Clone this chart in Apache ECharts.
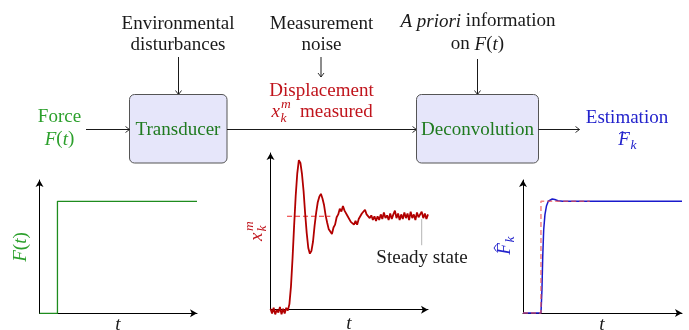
<!DOCTYPE html>
<html>
<head>
<meta charset="utf-8">
<script src="https://cdn.jsdelivr.net/npm/echarts@6/dist/echarts.min.js"></script>
<style>
  html, body { margin: 0; padding: 0; background: #fff; }
  #chart { width: 689px; height: 330px; }
</style>
</head>
<body>
<div id="chart"></div>
<script>
// force input F(t): a step (x = sample index 0..100)
const forceT = [0, 11.4, 11.4, 100]
const forceV = [0, 0, 1, 1]

// measured displacement x_k^m, one value per sample 0..100
const measured = [
  0.01, -0.04, 0.02, -0.05, 0.0, -0.03, 0.03, -0.05, 0.01, -0.04, 0.02, -0.01,
  0.06, 0.25, 0.55, 0.9, 1.22, 1.46, 1.6, 1.57, 1.45, 1.27,
  1.03, 0.82, 0.66, 0.6, 0.63, 0.73, 0.9, 1.04, 1.15, 1.21,
  1.24, 1.19, 1.12, 1.01, 0.93, 0.86, 0.85, 0.81, 0.88, 0.91,
  0.99, 1.02, 1.08, 1.05, 1.11, 1.06, 1.07, 1.0, 1.01, 0.94,
  0.96, 0.91, 0.95, 0.91, 0.97, 0.96, 1.03, 1.02, 1.07, 1.02,
  1.04, 0.98, 1.01, 0.96, 1.0, 0.95, 1.0, 0.96, 1.02, 0.97,
  1.04, 0.98, 1.01, 0.96, 1.03, 0.97, 1.02, 1.06, 0.98, 1.03,
  0.96, 1.02, 0.97, 1.04, 0.98, 1.03, 0.96, 1.05, 0.98, 1.02,
  0.96, 1.04, 0.99, 0.97, 1.05, 0.98, 1.03, 0.97, 1.02
]
// dashed steady level and the "Steady state" pointer
const steadyT = [10.5, 38]
const steadyV = [1, 1]
const pointerT = [96, 96]
const pointerV = [0.97, 0.69]

// estimated force F^_k and the true step under it
const estT = [0, 11.3, 11.9, 12.4, 13, 13.8, 14.8, 15.9, 17, 18.4, 20, 22, 25, 100]
const estV = [0, 0, 0.2, 0.5, 0.74, 0.88, 0.96, 1.0, 1.015, 1.02, 1.015, 1.005, 1.0, 1.0]
const trueT = [0, 11.3, 11.3, 42]
const trueV = [0, 0, 1, 1]

const FONT = 'Liberation Serif'
const INK = '#1a1a1a'
const GREEN = '#2ca02c'
const DGREEN = '#1f7a1f'
const RED = '#c0141c'
const BLUE = '#2323cc'

const zip = (xs, ys) => xs.map((x, i) => [x, ys[i]])

function txt(x, y, text, opt) {
  opt = opt || {}
  const style = {
    text: text, fontFamily: FONT, fontSize: opt.size || 19,
    fontStyle: opt.it ? 'italic' : 'normal', fill: opt.fill || INK,
    align: opt.align || 'center', verticalAlign: 'middle'
  }
  if (opt.rich) style.rich = opt.rich
  return { type: 'text', x: x, y: y, silent: true, style: style }
}
function italic(color, size) {
  return { i: { fontFamily: FONT, fontStyle: 'italic', fontSize: size || 19, fill: color } }
}
function hArrow(x1, x2, y) {
  return [
    { type: 'line', shape: { x1: x1, y1: y, x2: x2, y2: y }, style: { stroke: INK, lineWidth: 1 } },
    { type: 'polyline', shape: { points: [[x2 - 4, y - 3], [x2, y], [x2 - 4, y + 3]] }, style: { stroke: INK, lineWidth: 0.9, fill: null } }
  ]
}
function vArrow(x, y1, y2) {
  return [
    { type: 'line', shape: { x1: x, y1: y1, x2: x, y2: y2 }, style: { stroke: INK, lineWidth: 1 } },
    { type: 'polyline', shape: { points: [[x - 3, y2 - 4], [x, y2], [x + 3, y2 - 4]] }, style: { stroke: INK, lineWidth: 0.9, fill: null } }
  ]
}
function box(x, y, w, h) {
  return { type: 'rect', shape: { x: x, y: y, width: w, height: h, r: 5 }, style: { fill: '#e6e6fa', stroke: '#555', lineWidth: 1 } }
}
function hat(x, y, color) {
  return { type: 'polyline', shape: { points: [[x - 3.5, y + 2.5], [x, y], [x + 3.5, y + 2.5]] }, style: { stroke: color, lineWidth: 1, fill: null } }
}

// block diagram
const diagram = [].concat(
  txt(178, 24, 'Environmental'),
  txt(178, 45, 'disturbances'),
  vArrow(178.5, 57, 94.5),
  box(129.5, 94.5, 97.5, 68.5),
  txt(178, 130, 'Transducer', { fill: DGREEN }),
  txt(59.5, 117, 'Force', { fill: GREEN }),
  txt(59.5, 139.5, '{i|F}({i|t})', { fill: GREEN, rich: italic(GREEN) }),
  hArrow(86, 129.5, 129.5),
  hArrow(227, 416.5, 129.5),
  txt(321.5, 24, 'Measurement'),
  txt(321.5, 45, 'noise'),
  vArrow(321, 57, 77),
  txt(321.5, 91, 'Displacement', { fill: RED }),
  txt(271.5, 112, 'x', { fill: RED, align: 'left', it: true }),
  txt(281, 104.5, 'm', { fill: RED, align: 'left', it: true, size: 13.5 }),
  txt(280.5, 118.5, 'k', { fill: RED, align: 'left', it: true, size: 13.5 }),
  txt(300, 112, 'measured', { fill: RED, align: 'left' }),
  txt(478, 21.5, '{i|A priori} information', { rich: italic(INK) }),
  txt(477.5, 44.5, 'on {i|F}({i|t})', { rich: italic(INK) }),
  vArrow(477.5, 59, 94.5),
  box(416.5, 94.5, 122, 68.5),
  txt(477.5, 130, 'Deconvolution', { fill: DGREEN }),
  hArrow(538.5, 579.5, 129.5),
  txt(627, 118, 'Estimation', { fill: BLUE }),
  txt(624, 139.5, 'F', { fill: BLUE, it: true }),
  hat(622.5, 131.5, BLUE),
  txt(630.5, 145, 'k', { fill: BLUE, align: 'left', it: true, size: 13.5 }),
  txt(422, 258.5, 'Steady state'),
  // t under each small plot
  txt(118, 325, 't', { it: true }),
  txt(349, 324, 't', { it: true }),
  txt(602, 325, 't', { it: true })
)

// rotated y labels of the three small plots
const yLabels = [
  { type: 'group', x: 21, y: 247, rotation: Math.PI / 2, children: [
    txt(0, 0, '{i|F}({i|t})', { fill: GREEN, rich: italic(GREEN) })
  ] },
  { type: 'group', x: 256, y: 231, rotation: Math.PI / 2, children: [
    txt(-10, 1, 'x', { fill: RED, align: 'left', it: true }),
    txt(0, -6.5, 'm', { fill: RED, align: 'left', it: true, size: 13.5 }),
    txt(-0.5, 6.5, 'k', { fill: RED, align: 'left', it: true, size: 13.5 })
  ] },
  { type: 'group', x: 505, y: 245, rotation: Math.PI / 2, children: [
    txt(-4, 0, 'F', { fill: BLUE, it: true }),
    hat(-3, -11, BLUE),
    txt(2.5, 5, 'k', { fill: BLUE, align: 'left', it: true, size: 13.5 })
  ] }
]

function xAx(idx) {
  return {
    type: 'value', gridIndex: idx, min: 0, max: 100,
    axisLine: { lineStyle: { color: '#000', width: 1 }, symbol: ['none', 'arrow'], symbolSize: [6, 7] },
    axisTick: { show: false }, axisLabel: { show: false }, splitLine: { show: false }
  }
}
function yAx(idx, max) {
  return {
    type: 'value', gridIndex: idx, min: 0, max: max,
    axisLine: { show: true, lineStyle: { color: '#000', width: 1 }, symbol: ['none', 'arrow'], symbolSize: [6, 7] },
    axisTick: { show: false }, axisLabel: { show: false }, splitLine: { show: false }
  }
}
function line(idx, data, color, width, extra) {
  return Object.assign({
    type: 'line', xAxisIndex: idx, yAxisIndex: idx, data: data,
    showSymbol: false, clip: false, silent: true,
    lineStyle: { color: color, width: width }
  }, extra || {})
}

const chart = echarts.init(document.getElementById('chart'))
chart.setOption({
  animation: false,
  backgroundColor: '#fff',
  textStyle: { fontFamily: FONT },
  grid: [
    { left: 39.5, top: 180, width: 157.5, height: 133.3 },
    { left: 270.5, top: 153, width: 157.5, height: 156.7 },
    { left: 523, top: 180, width: 159, height: 133 }
  ],
  xAxis: [xAx(0), xAx(1), xAx(2)],
  yAxis: [yAx(0, 1.19), yAx(1, 1.677), yAx(2, 1.19)],
  series: [
    line(0, zip(forceT, forceV), '#1e8c1e', 1.3),
    line(1, zip(pointerT, pointerV), '#b4b4b4', 1),
    line(1, zip(steadyT, steadyV), '#ee2a2a', 1, { lineStyle: { color: '#ee2a2a', width: 1, type: [5, 3] } }),
    line(1, measured.map((v, i) => [i, v]), '#b20000', 1.8),
    line(2, zip(estT, estV), '#1a1acc', 1.5),
    line(2, zip(trueT, trueV), '#f06060', 1.5, { lineStyle: { color: 'rgba(240,80,80,0.7)', width: 1.5, type: [5, 3] } })
  ],
  graphic: diagram.concat(yLabels)
})
</script>
</body>
</html>
